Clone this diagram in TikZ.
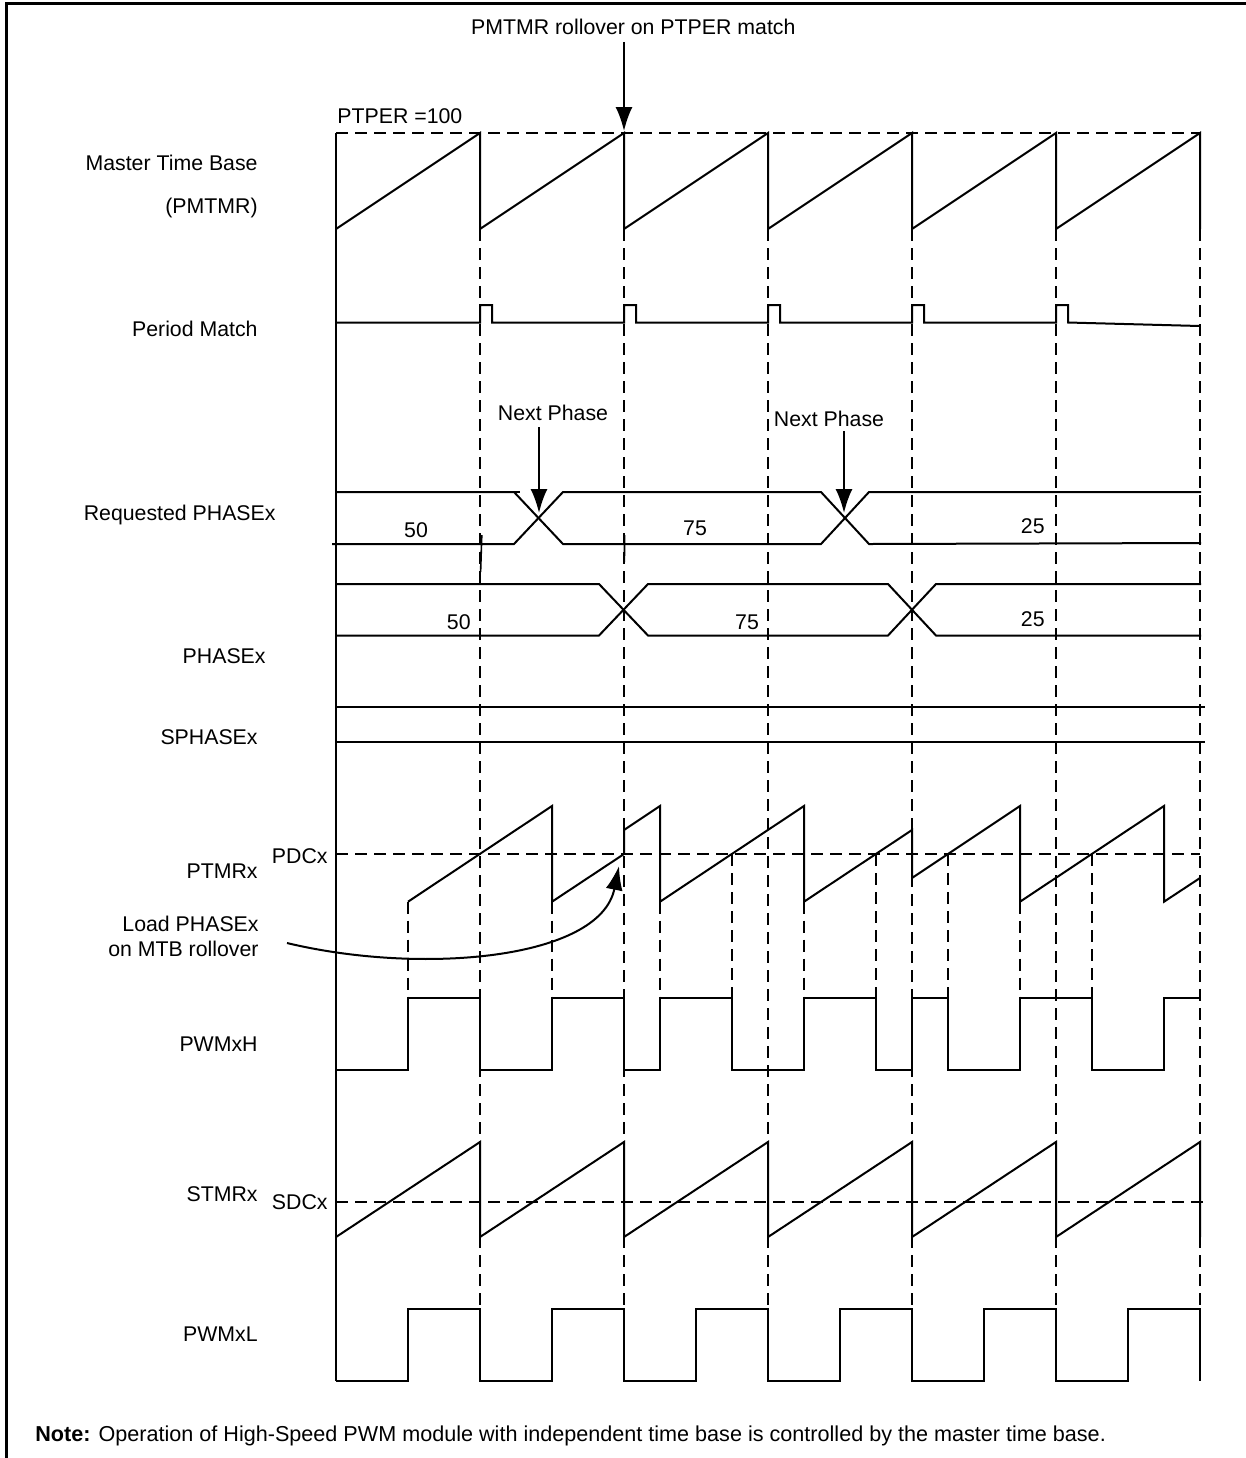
\documentclass[tikz,border=0pt]{standalone}
\usepackage{fontspec}
\setmainfont{Liberation Sans}
\usetikzlibrary{arrows.meta}
\begin{document}
\begin{tikzpicture}[x=0.5pt,y=-0.5pt,
  sig/.style={line width=1pt, line join=miter},
  gridline/.style={line width=0.9pt, dash pattern=on 6pt off 3.5pt},
  lbl/.style={inner sep=0pt, font=\fontsize{10.65pt}{12.8pt}\selectfont},
  arr/.style={line width=1pt, -{Latex[length=12pt,width=8.5pt]}}
]
\fill[white] (0,0) rectangle (1246,1458);
\useasboundingbox (0,0) rectangle (1246,1458);

% frame
\draw[line width=1.5pt] (6.7,1458) -- (6.7,3.3) -- (1246,3.3);

% left labels
\node[lbl, anchor=base east] (lmtb) at (258,170.5) {Master Time Base};
\node[lbl, anchor=base east] (lpmtmr) at (258,213.3) {(PMTMR)};
\node[lbl, anchor=base east] (lpm) at (258,336) {Period Match};
\node[lbl, anchor=base east] (lreq) at (276,520) {Requested PHASEx};
\node[lbl, anchor=base east] (lph) at (266,663.3) {PHASEx};
\node[lbl, anchor=base east] (lsph) at (258,744) {SPHASEx};
\node[lbl, anchor=base east] (lptmr) at (258,878) {PTMRx};
\node[lbl, anchor=base east] (lpdc) at (328,863.3) {PDCx};
\node[lbl, anchor=base east] (lload1) at (259,931.7) {Load PHASEx};
\node[lbl, anchor=base east] (lload2) at (259,956.7) {on MTB rollover};
\node[lbl, anchor=base east] (lpwmh) at (258,1051) {PWMxH};
\node[lbl, anchor=base east] (lstmr) at (258,1201) {STMRx};
\node[lbl, anchor=base east] (lsdc) at (328,1209.3) {SDCx};
\node[lbl, anchor=base east] (lpwml) at (258,1341.7) {PWMxL};
\node[lbl, anchor=base west, font=\fontsize{10.8pt}{13pt}\selectfont] (note) at (35,1441.7) {\textbf{Note:} Operation of High-Speed PWM module with independent time base is controlled by the master time base.};

% top labels
\node[lbl, anchor=base west] (ptper) at (337,123.3) {PTPER =100};
\node[lbl, anchor=base] (roll) at (633.3,34.3) {PMTMR rollover on PTPER match};
\node[lbl, anchor=base] (np1) at (553,420.7) {Next Phase};
\node[lbl, anchor=base] (np2) at (829,426) {Next Phase};

% bus values
\node[lbl, anchor=base east] (ra) at (428.3,537.3) {50};
\node[lbl, anchor=base east] (rb) at (707.3,535.7) {75};
\node[lbl, anchor=base east] (rc) at (1045,533.3) {25};
\node[lbl, anchor=base east] (pa) at (471,629.3) {50};
\node[lbl, anchor=base east] (pb) at (759.3,629.3) {75};
\node[lbl, anchor=base east] (pc) at (1045,626) {25};

% axis
\draw[sig] (336,133) -- (336,1381);

% PTPER level and master sawtooth
\draw[gridline] (336,133) -- (1200,133);
\draw[sig] (336,229) \foreach \x in {480,624,768,912,1056,1200}{ -- (\x,133) -- (\x,229)};

% vertical grid
\foreach \x in {480,624,768,912,1056}{\draw[gridline] (\x,229) -- (\x,1381);}
\draw[gridline] (1200,229) -- (1200,1309);

% period match
\draw[sig] (336,322.5) \foreach \x in {480,624,768,912,1056}{ -- (\x,322.5) -- (\x,305) -- (\x+12,305) -- (\x+12,322.5)} -- (1200,326);

% requested PHASEx bus
\draw[sig] (332,544) -- (514,544) -- (563,492) -- (821,492) -- (869,544) -- (1201,543);
\draw[sig] (336,492) -- (514,492) -- (563,544) -- (821,544) -- (869,492) -- (1201,492);
\draw[sig] (514,492) -- (520,492);
\draw[line width=0.8pt] (481.8,535) -- (480.6,572);
\draw[line width=0.8pt] (624.6,535) -- (624.4,562);

% PHASEx bus
\draw[sig] (336,584) -- (599,584) -- (648,635.5) -- (888,635.5) -- (936,584) -- (1201,584);
\draw[sig] (336,635.5) -- (599,635.5) -- (648,584) -- (888,584) -- (936,635.5) -- (1201,635.5);

% SPHASEx
\draw[sig] (336,707) -- (1205,707);
\draw[sig] (336,742) -- (1205,742);

% PTMRx
\draw[gridline] (336,854) -- (1200,854);
\draw[sig] (408,901.7) -- (552,806) -- (552,901.7) -- (624,854) -- (624,830) -- (660,806) -- (660,901.7)
  -- (804,806) -- (804,901.7) -- (912,830) -- (912,878) -- (1020,806) -- (1020,901.7)
  -- (1164,806) -- (1164,901.7) -- (1200,878);
\foreach \x in {408,552,660,804,1020}{\draw[gridline] (\x,901.7) -- (\x,997.7);}
\foreach \x in {732,876,948,1092}{\draw[gridline] (\x,854) -- (\x,997.7);}

% PWMxH
\draw[sig] (336,1070) -- (408,1070) -- (408,998) -- (480,998) -- (480,1070) -- (552,1070) -- (552,998)
  -- (624,998) -- (624,1070) -- (660,1070) -- (660,998) -- (732,998) -- (732,1070) -- (804,1070)
  -- (804,998) -- (876,998) -- (876,1070) -- (912,1070) -- (912,998) -- (948,998) -- (948,1070)
  -- (1020,1070) -- (1020,998) -- (1092,998) -- (1092,1070) -- (1164,1070) -- (1164,998) -- (1200,998);

% STMRx
\draw[gridline] (336,1201.7) -- (1203,1201.7);
\draw[sig] (336,1237) \foreach \x in {480,624,768,912,1056,1200}{ -- (\x,1142) -- (\x,1237)};

% PWMxL
\draw[sig] (336,1381) \foreach \x in {336,480,624,768,912,1056}{ -- (\x+72,1381) -- (\x+72,1309) -- (\x+144,1309) -- (\x+144,1381)};

% arrows
\coordinate (rolltip) at (624,131);
\draw[arr] ([yshift=-3.5pt]roll.south -| rolltip) -- (rolltip);
\coordinate (np1tip) at (539,513);
\draw[arr] ([yshift=-3pt]np1.south -| np1tip) -- (np1tip);
\coordinate (np2tip) at (844,513);
\draw[arr] ([yshift=-2.4pt]np2.south -| np2tip) -- (np2tip);
\coordinate (cs) at (287,943);
\coordinate (ctip) at (619,866);
\draw[arr] (cs) .. controls (420,975) and (600,960) .. (ctip);
\end{tikzpicture}
\end{document}
